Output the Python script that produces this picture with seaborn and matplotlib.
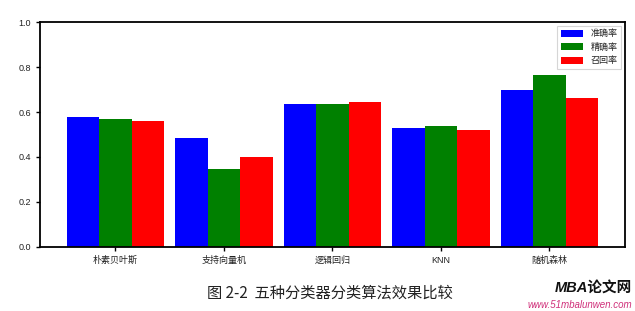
import matplotlib
matplotlib.use("Agg")
import matplotlib.pyplot as plt
import seaborn as sns
import pandas as pd

categories = ["朴素贝叶斯", "支持向量机", "逻辑回归", "KNN", "随机森林"]
accuracy = [0.576, 0.486, 0.637, 0.529, 0.699]
precision = [0.569, 0.347, 0.636, 0.539, 0.764]
recall = [0.561, 0.401, 0.643, 0.520, 0.662]
series_names = ["准确率", "精确率", "召回率"]
colors = ["#0000ff", "#008000", "#ff0000"]

sns.set_style("ticks")
plt.rcParams["font.family"] = ["Liberation Sans", "Noto Sans CJK SC", "DejaVu Sans"]

rows = []
for name, vals in zip(series_names, [accuracy, precision, recall]):
    for c, v in zip(categories, vals):
        rows.append({"cat": c, "series": name, "value": v})
df = pd.DataFrame(rows)

fig = plt.figure(figsize=(6.35, 3.11), dpi=100)
ax = fig.add_axes([0.063, 0.206, 0.921, 0.723])
sns.barplot(data=df, x="cat", y="value", hue="series", order=categories,
            hue_order=series_names, palette=colors, width=0.9, saturation=1,
            ax=ax, linewidth=0)
ax.set_xlim(-0.695, 4.695)
ax.set_ylim(0, 1.0)
ax.set_yticks([0, 0.2, 0.4, 0.6, 0.8, 1.0])
ax.set_yticklabels(["0.0", "0.2", "0.4", "0.6", "0.8", "1.0"])
ax.set_xlabel("")
ax.set_ylabel("")
ax.tick_params(axis="both", labelsize=6.5, length=3, width=1, color="black", labelcolor="#222222")
for s in ax.spines.values():
    s.set_visible(True)
    s.set_linewidth(1.3)
    s.set_color("black")
leg = ax.legend(loc="upper right", fontsize=6.5, frameon=True, fancybox=False,
                handlelength=2.5, handleheight=0.8, borderaxespad=0.4)
leg.get_frame().set_edgecolor("#cccccc")
leg.get_frame().set_linewidth(0.8)

fig.text(0.52, 0.058, "图 2-2  五种分类器分类算法效果比较", ha="center", va="center",
         fontsize=11, color="#222222", family=["Noto Sans CJK SC", "DejaVu Sans"])
fig.text(0.995, 0.075, "MBA论文网", ha="right", va="center", fontsize=10.5,
         fontweight="bold", style="italic", color="#111111")
fig.text(0.995, 0.02, "www.51mbalunwen.com", ha="right", va="center", fontsize=7,
         style="italic", color="#d0307a")

fig.savefig("out.png", dpi=100, facecolor="white")
